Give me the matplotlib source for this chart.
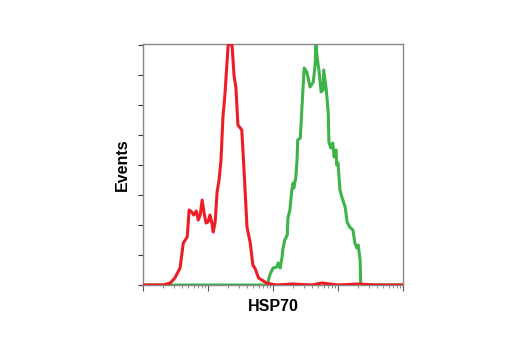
import numpy as np
import matplotlib
matplotlib.use("Agg")
import matplotlib.pyplot as plt
from matplotlib.ticker import LogLocator, NullFormatter, MultipleLocator

# red histogram (log10 intensity, events)
red_logx = [0.0, 0.31, 0.42, 0.49, 0.57, 0.62, 0.68, 0.71, 0.75, 0.78, 0.82, 0.85,
            0.88, 0.91, 0.94, 0.97, 1.00, 1.03, 1.06, 1.08, 1.11, 1.14, 1.17, 1.20,
            1.23, 1.26, 1.31, 1.34, 1.37, 1.40, 1.43, 1.46, 1.52, 1.55, 1.60, 1.65,
            1.69, 1.72, 1.78, 1.9, 2.05, 2.3, 2.6, 2.75, 3.0, 3.3, 3.6, 4.0]
red_y = [0, 0, 2, 7, 17, 42, 48, 75, 73, 70, 74, 65, 70, 85, 72, 62, 63, 70, 62, 53,
         63, 93, 105, 125, 168, 190, 240, 241, 240, 210, 197, 160, 155, 120, 58, 42,
         20, 17, 7, 2, 0, 1, 0, 2, 0, 1, 0, 0]

# green histogram
green_logx = [0.0, 1.91, 1.95, 2.00, 2.06, 2.08, 2.11, 2.14, 2.15, 2.18, 2.22, 2.23,
              2.26, 2.29, 2.31, 2.32, 2.35, 2.37, 2.38, 2.42, 2.45, 2.48, 2.52, 2.57,
              2.62, 2.65, 2.66, 2.68, 2.71, 2.74, 2.77, 2.78, 2.82, 2.85, 2.86, 2.89,
              2.92, 2.94, 2.97, 2.98, 3.00, 3.03, 3.06, 3.11, 3.14, 3.18, 3.23, 3.26,
              3.29, 3.31, 3.34, 3.35, 4.0]
green_y = [0, 0, 10, 17, 18, 22, 17, 28, 35, 45, 50, 67, 75, 95, 102, 97, 107, 125,
           145, 147, 183, 217, 213, 198, 203, 222, 241, 227, 213, 193, 195, 215, 195,
           172, 143, 137, 142, 128, 135, 120, 122, 95, 88, 78, 63, 58, 55, 42, 37, 40,
           25, 0, 0]

red = "#ee1c25"
green = "#3cb44a"

fig = plt.figure(figsize=(5.2, 3.5), dpi=100)
ax = fig.add_axes([0.275, 0.1857, 0.5, 0.6886])

ax.plot(10 ** np.array(green_logx), green_y, color=green, lw=2.2, zorder=2)
ax.plot(10 ** np.array(red_logx), red_y, color=red, lw=2.2, zorder=3)

ax.set_xscale("log")
ax.set_xlim(1, 1e4)
ax.set_ylim(0, 241)
ax.xaxis.set_major_locator(LogLocator(base=10, numticks=10))
ax.xaxis.set_minor_locator(LogLocator(base=10, subs=np.arange(2, 10), numticks=100))
ax.xaxis.set_major_formatter(NullFormatter())
ax.xaxis.set_minor_formatter(NullFormatter())
ax.yaxis.set_major_locator(MultipleLocator(30))
ax.yaxis.set_major_formatter(NullFormatter())

for s in ax.spines.values():
    s.set_color("#888888")
    s.set_linewidth(1.0)

ax.tick_params(axis="y", which="major", direction="out", length=3.5, color="#333333", width=0.8)
ax.tick_params(axis="x", which="major", direction="out", length=4, color="#555555", width=0.8)
ax.tick_params(axis="x", which="minor", direction="out", length=2.5, color="#777777", width=0.6)

font = ["Liberation Sans", "DejaVu Sans"]
ax.set_xlabel("HSP70", fontsize=11.5, fontweight="bold", family=font, labelpad=2.5)
ax.set_ylabel("Events", fontsize=11.5, fontweight="bold", family=font, labelpad=2.5)

fig.savefig("out.png", dpi=100)
